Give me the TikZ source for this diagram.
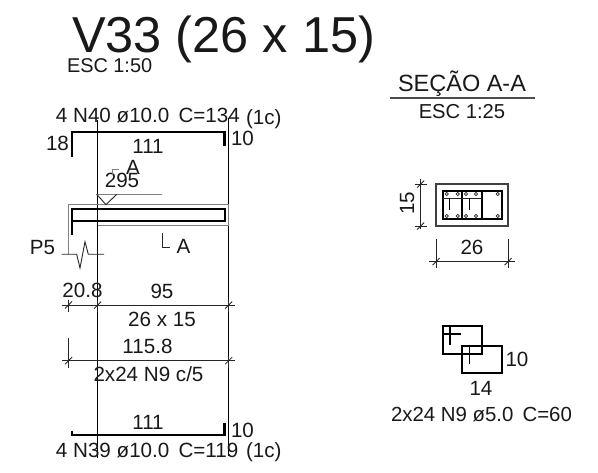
\documentclass[tikz,border=0pt]{standalone}
\usepackage{fontspec}
\setmainfont{Liberation Sans}
\newcommand{\fs}[1]{\fontsize{#1}{#1}\selectfont}
\tikzset{
  lab/.style={inner sep=0pt,outer sep=0pt,anchor=base,font=\fs{20.6},text=black!90},
  labw/.style={lab,anchor=base west},
  thin line/.style={line width=0.9pt,draw=black!85},
  axis line/.style={line width=1.5pt,draw=black},
  gray line/.style={line width=1.2pt,draw=black!50},
  bar/.style={line width=2.1pt,draw=black},
  tickm/.style={line width=0.8pt,draw=black!85},
  hole/.style={circle,draw=black!85,line width=0.7pt,inner sep=0pt,minimum size=3.2pt}
}
\newcommand{\tkh}[2]{\draw[tickm] (#1-3.5,#2+3.5) -- (#1+3.5,#2-3.5); \draw[tickm] (#1,#2-5) -- (#1,#2+7);}
\newcommand{\tkv}[2]{\draw[tickm] (#1-3.5,#2+3.5) -- (#1+3.5,#2-3.5); \draw[tickm] (#1-6,#2) -- (#1+6,#2);}
\begin{document}
\begin{tikzpicture}[x=1pt,y=-1pt]
\useasboundingbox (0,0) rectangle (598,473);
\fill[white] (0,0) rectangle (598,473);
% titles
\node[labw,font=\fs{50.5}] (title) at (72,53) {V33 (26 x 15)};
\node[labw,font=\fs{19.9}] (esc50) at (67,73) {ESC 1:50};
\node[lab,font=\fs{23.5}] (sec) at (462,92) {SEÇÃO A-A};
\draw[gray line,draw=black!70] (390,98) -- (535,98);
\node[lab,font=\fs{20.2}] (esc25) at (462,119) {ESC 1:25};
% beam elevation
\coordinate (vl1) at (97.7,120); \coordinate (vl2) at (97.7,458);
\coordinate (vr1) at (228.7,118); \coordinate (vr2) at (228.7,456);
\draw[axis line] (vl1) -- (vl2);
\draw[axis line] (vr1) -- (vr2);
\draw[gray line] (68.3,254) -- (68.3,204.7) -- (228.7,204.7) -- (228.7,225.6) -- (97.7,225.6);
\draw[bar] (72,235) -- (72,209) -- (224.7,209) -- (224.7,220.7) -- (72,220.7);
% top and bottom bars
\draw[bar] (72,157) -- (72,132) -- (224.5,132) -- (224.5,146);
\draw[bar] (72,431) -- (72,435) -- (224.5,435) -- (224.5,423);
\node[labw] (n40) at (56,123) {4 N40 ø10.0\, C=134};
\node[labw] (c1a) at (246,125) {(1c)};
\node[lab] (d18) at (57.5,151) {18};
\node[lab] (d111a) at (148,154) {111};
\node[labw] (d10a) at (231,146) {10};
\node[lab] (d295) at (122,188) {295};
\node[lab] (d111b) at (148,430) {111};
\node[labw] (d10b) at (231,438) {10};
\node[labw] (n39) at (56,458) {4 N39 ø10.0\, C=119};
\node[labw] (c1b) at (246,458) {(1c)};
% level mark
\draw[gray line,line width=0.9pt] (96,194.3) -- (161.7,194.3);
\draw[thin line] (96.7,194.3) -- (106,204.7) -- (116.7,194.3);
% section marks
\draw[gray line,line width=0.9pt] (119,169) -- (112.3,169) -- (112.3,175);
\node[lab] (aa) at (133,175) {A};
\draw[thin line] (162.7,233) -- (162.7,247) -- (170,247);
\node[lab] (ab) at (183.5,254) {A};
% break line
\draw[thin line] (61.7,254.3) -- (76.7,254.3) -- (80,268) -- (85,241.7) -- (88.3,254.3) -- (104,254.3);
\node[lab] (p5) at (42.5,255) {P5};
% dimensions
\draw[thin line] (61.7,305) -- (235,305);
\draw[thin line] (61.7,360.7) -- (235,360.7);
\draw[thin line] (68.5,338) -- (68.5,368);
\tkh{68.5}{305}\tkh{97.7}{305}\tkh{228.7}{305}
\tkh{68.5}{360.7}\tkh{228.7}{360.7}
\node[lab] (d208) at (82.5,298) {20.8};
\node[lab] (d95) at (162,299) {95};
\node[lab] (d2615) at (162,327) {26 x 15};
\node[lab] (d1158) at (147.5,354) {115.8};
\node[lab] (n9) at (148.5,382) {2x24 N9 c/5};
% section
\draw[gray line,draw=black!75] (436,184) rectangle (508,226);
\draw[bar,line width=2pt] (442.7,191) rectangle (501.7,219.3);
\draw[bar,line width=1.7pt] (462.3,191) -- (462.3,219.3);
\draw[bar,line width=1.7pt] (481.7,191) -- (481.7,219.3);
\draw[thin line] (442.7,198) -- (481.7,198);
\draw[bar,line width=1.5pt] (449.3,198) -- (449.3,210);
\draw[bar,line width=1.5pt] (469.3,198) -- (469.3,210);
\foreach \hx in {446.7,457.7,466,476,497.7}{
  \node[hole] at (\hx,194) {};
  \node[hole] at (\hx,216) {};
}
\draw[thin line] (420.7,179) -- (420.7,229);
\tkv{420.7}{184}\tkv{420.7}{226}
\node[lab,rotate=90,anchor=base] (d15) at (414,203.5) {15};
\draw[thin line] (429,261.7) -- (515,261.7);
\draw[thin line] (436,239) -- (436,268);
\draw[thin line] (508,239) -- (508,268);
\tkv{436}{261.7}\tkv{508}{261.7}
\node[lab] (d26) at (472,255) {26};
% stirrup detail
\draw[bar,line width=1.8pt] (443.3,326) rectangle (481.7,354.3);
\draw[bar,line width=1.8pt] (462.3,345.7) rectangle (501.7,373.3);
\draw[bar,line width=1.2pt] (450,326) -- (450,345);
\draw[bar,line width=1.2pt] (443.3,334) -- (460.7,334);
\draw[bar,line width=1.2pt] (469.3,345.7) -- (469.3,364.3);
\draw[bar,line width=1.2pt] (462.3,353.3) -- (480,353.3);
\node[lab] (d10c) at (517,367) {10};
\node[lab] (d14) at (481,396) {14};
\node[lab,font=\fs{20.4}] (n9b) at (481.5,422) {2x24 N9 ø5.0\, C=60};
\end{tikzpicture}
\end{document}
